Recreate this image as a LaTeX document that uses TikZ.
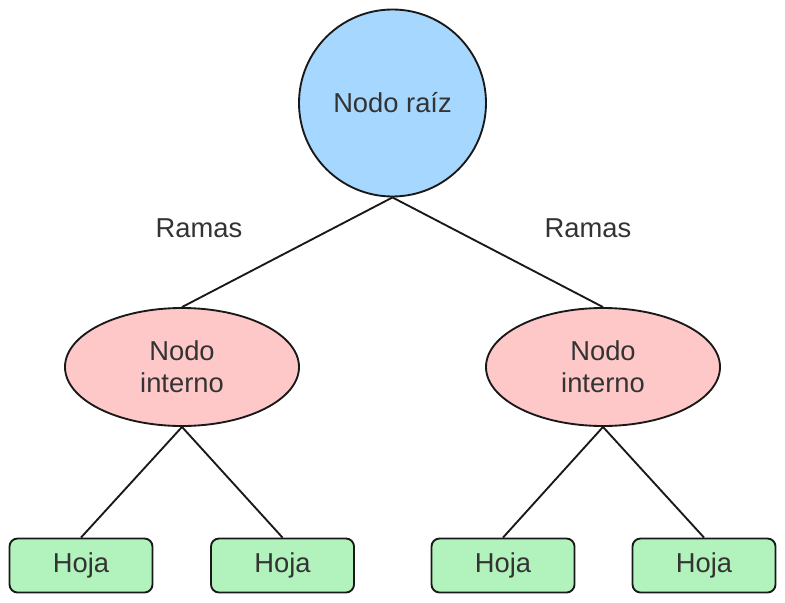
\documentclass[tikz,border=0pt]{standalone}
\usepackage{fontspec}
\setmainfont{Liberation Sans}
\usetikzlibrary{shapes.geometric}
\definecolor{rootblue}{RGB}{166,215,255}
\definecolor{innerpink}{RGB}{255,200,200}
\definecolor{leafgreen}{RGB}{178,242,188}
\definecolor{txt}{RGB}{51,51,51}
\tikzset{
  base/.style={draw=black!90, line width=1.4pt, text=txt, font=\fontsize{20.5}{24}\selectfont, inner sep=0pt},
  rootnode/.style={base, circle, fill=rootblue, minimum size={187*0.75pt}},
  innernode/.style={base, ellipse, fill=innerpink, minimum width={234*0.75pt}, minimum height={118*0.75pt}, align=center},
  leafnode/.style={base, rectangle, rounded corners=6pt, fill=leafgreen, minimum width={143*0.75pt}, minimum height={54*0.75pt}},
  lbl/.style={text=txt, font=\fontsize{20.5}{24}\selectfont},
  conn/.style={draw=black!90, line width=1.4pt}
}
\begin{document}
\begin{tikzpicture}[x=0.75pt, y=-0.75pt]
\useasboundingbox (0,0) rectangle (785,603);
\node[rootnode] (root) at (392.5,103) {Nodo raíz};
\node[innernode] (inL) at (182,367) {Nodo\\interno};
\node[innernode] (inR) at (603,367) {Nodo\\interno};
\node[leafnode] (l1) at (81,565.5) {\raisebox{-1pt}{Hoja}};
\node[leafnode] (l2) at (282.5,565.5) {\raisebox{-1pt}{Hoja}};
\node[leafnode] (l3) at (503,565.5) {\raisebox{-1pt}{Hoja}};
\node[leafnode] (l4) at (704,565.5) {\raisebox{-1pt}{Hoja}};
\node[lbl] (r1) at (199,228) {Ramas};
\node[lbl] (r2) at (588,228) {Ramas};
\draw[conn] (root.south) -- (inL.north);
\draw[conn] (root.south) -- (inR.north);
\draw[conn] (inL.south) -- (l1.north);
\draw[conn] (inL.south) -- (l2.north);
\draw[conn] (inR.south) -- (l3.north);
\draw[conn] (inR.south) -- (l4.north);
\end{tikzpicture}
\end{document}
